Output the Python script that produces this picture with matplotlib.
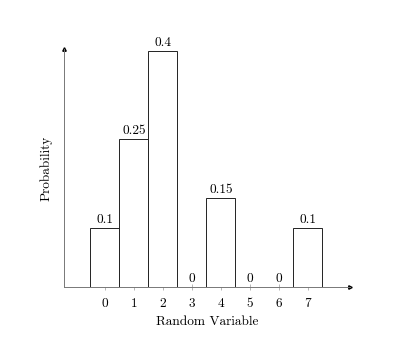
import matplotlib
matplotlib.use("Agg")
import matplotlib.pyplot as plt

categories = [0, 1, 2, 3, 4, 5, 6, 7]
probabilities = [0.1, 0.25, 0.4, 0, 0.15, 0, 0, 0.1]
value_labels = ["0.1", "0.25", "0.4", "0", "0.15", "0", "0", "0.1"]

plt.rcParams['font.family'] = 'serif'
plt.rcParams['font.serif'] = ['cmr10', 'DejaVu Serif']
plt.rcParams['mathtext.fontset'] = 'cm'
plt.rcParams['axes.formatter.use_mathtext'] = True

fs = 9.6
fig = plt.figure(figsize=(3.98, 3.53), dpi=100)
ax = fig.add_axes([64/398, 1-287/353, (350-64)/398, (287-49)/353])

ax.bar(categories, probabilities, width=1.0, facecolor='white',
       edgecolor='#222222', linewidth=0.7, zorder=3)
for x, v, t in zip(categories, probabilities, value_labels):
    ax.annotate(t, (x, v), xytext=(0, 1.5), textcoords='offset points',
                ha='center', va='bottom', fontsize=fs)

ax.set_xlim(-1.41, 8.45)
ax.set_ylim(0, 0.403)
ax.set_xticks(categories)
ax.set_xticklabels([str(c) for c in categories], fontsize=fs)
ax.set_yticks([])
ax.tick_params(axis='x', direction='inout', length=4, width=0.5, color='#999999', pad=6)
for s in ['top', 'right']:
    ax.spines[s].set_visible(False)
for s in ['left', 'bottom']:
    ax.spines[s].set_linewidth(0.7)
    ax.spines[s].set_color('#777777')
ax.plot(1, 0, '>k', markersize=2.5, transform=ax.transAxes, clip_on=False)
ax.plot(0, 1, '^k', markersize=2.5, transform=ax.transAxes, clip_on=False)

ax.set_xlabel('Random Variable', fontsize=fs, labelpad=4)
ax.set_ylabel('Probability', fontsize=fs, labelpad=8)

fig.savefig('out.png', dpi=100)
